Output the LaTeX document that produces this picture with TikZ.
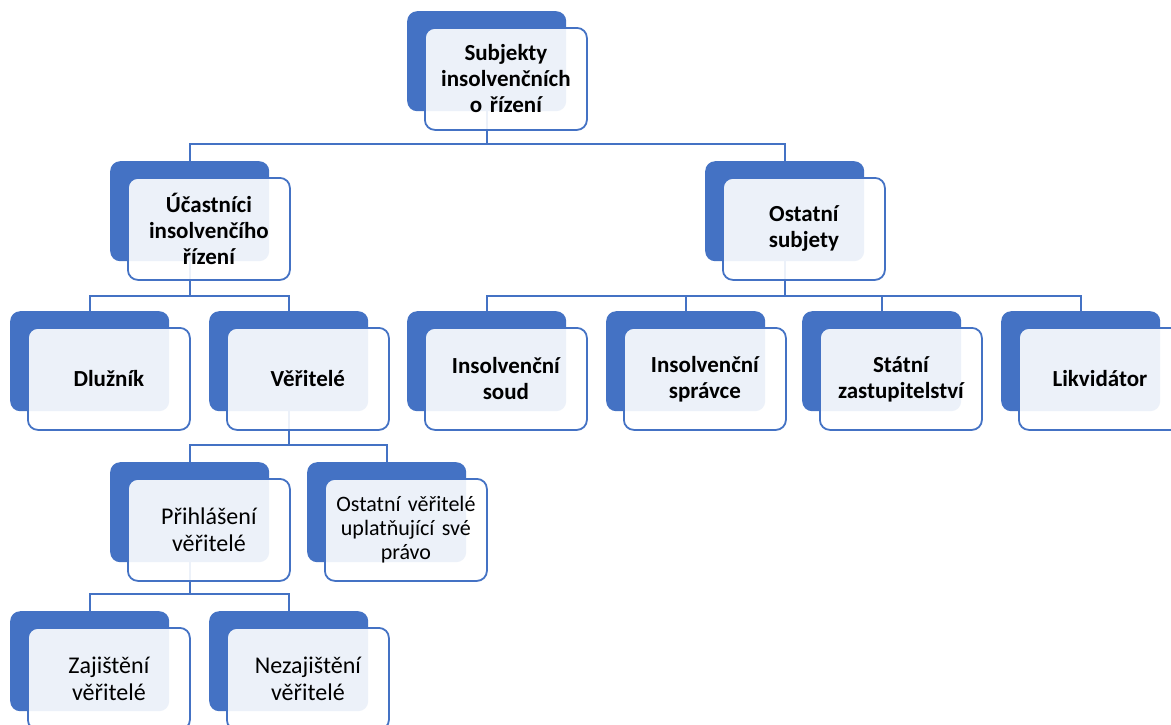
\documentclass[tikz,border=0pt]{standalone}
\usepackage{fontspec}
\setmainfont{Carlito}
\usetikzlibrary{calc}
\pgfdeclarelayer{bg}
\pgfsetlayers{bg,main}
\definecolor{accent}{HTML}{4472C4}
\tikzset{
  backbox/.style={draw=none, fill=accent, rounded corners=10pt, minimum width=159pt, minimum height=100pt, inner sep=0pt, anchor=north west},
  frontbox/.style={draw=accent, line width=1.8pt, fill=white, fill opacity=0.9, text opacity=1, rounded corners=10pt, minimum width=162pt, minimum height=102pt, inner sep=0pt, anchor=north west, align=center, text width=156pt, font=\fontsize{23}{26}\selectfont\bfseries, text=black},
  plaintext/.style={font=\fontsize{24}{27}\selectfont},
  smalltext/.style={font=\fontsize{22}{24}\selectfont},
  conn/.style={draw=accent, line width=2.2pt},
}
\newcommand\duo[5][]{%
  \node[backbox] (#2B) at (#3,#4) {};
  \node[frontbox,#1] (#2) at (#3+17,#4+16) {#5};
}
\begin{document}
\begin{tikzpicture}[x=1pt,y=-1pt]
\clip (0,0) rectangle (1171,724);
\duo{top}{407}{11}{Subjekty\\insolvenčních\\o řízení}
\duo{uc}{110}{161}{Účastníci\\insolvenčího\\řízení}
\duo{os}{705}{161}{Ostatní\\subjety}
\duo{dl}{10}{311}{Dlužník}
\duo{ve}{209}{311}{Věřitelé}
\duo{is}{407}{311}{Insolvenční\\soud}
\duo{sp}{606}{311}{Insolvenční\\správce}
\duo{st}{802}{311}{Státní\\zastupitelství}
\duo{lk}{1001}{311}{Likvidátor}
\duo[plaintext]{pr}{110}{462}{Přihlášení\\věřitelé}
\duo[smalltext]{ov}{307}{462}{Ostatní věřitelé\\uplatňující své\\právo}
\duo[plaintext]{za}{10}{611}{Zajištění\\věřitelé}
\duo[plaintext]{nz}{209}{611}{Nezajištění\\věřitelé}
\begin{pgfonlayer}{bg}
  \fill[white] (0,0) rectangle (1171,724);
  \coordinate (b1) at (0,144);
  \coordinate (b2) at (0,296);
  \coordinate (b3) at (0,445);
  \coordinate (b4) at (0,594);
  \draw[conn] (topB.south) -- (topB.south |- b1) -| (ucB.north);
  \draw[conn] (topB.south) -- (topB.south |- b1) -| (osB.north);
  \draw[conn] (ucB.south) -- (ucB.south |- b2) -| (dlB.north);
  \draw[conn] (ucB.south) -- (ucB.south |- b2) -| (veB.north);
  \draw[conn] (osB.south) -- (osB.south |- b2) -| (isB.north);
  \draw[conn] (osB.south) -- (osB.south |- b2) -| (spB.north);
  \draw[conn] (osB.south) -- (osB.south |- b2) -| (stB.north);
  \draw[conn] (osB.south) -- (osB.south |- b2) -| (lkB.north);
  \draw[conn] (veB.south) -- (veB.south |- b3) -| (prB.north);
  \draw[conn] (veB.south) -- (veB.south |- b3) -| (ovB.north);
  \draw[conn] (prB.south) -- (prB.south |- b4) -| (zaB.north);
  \draw[conn] (prB.south) -- (prB.south |- b4) -| (nzB.north);
\end{pgfonlayer}
\end{tikzpicture}
\end{document}
